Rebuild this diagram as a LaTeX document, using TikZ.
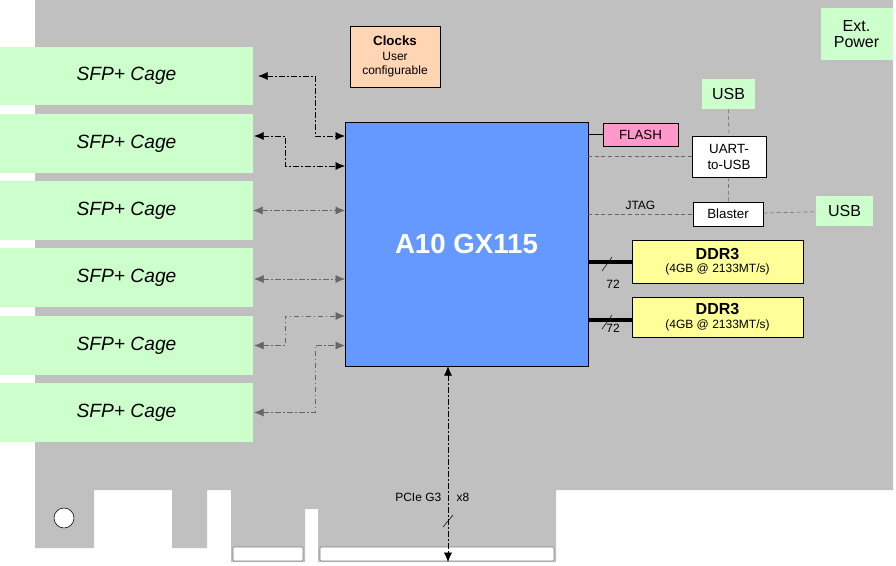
\documentclass[tikz,border=0pt]{standalone}
\usepackage{fontspec}
\setmainfont{Liberation Sans}
\usetikzlibrary{arrows.meta, positioning}
\definecolor{board}{HTML}{C0C0C0}
\definecolor{sfpgreen}{HTML}{CCFFCC}
\definecolor{fpgablue}{HTML}{6699FF}
\definecolor{clockpeach}{HTML}{FFD5B4}
\definecolor{flashpink}{HTML}{FF99CC}
\definecolor{ddryellow}{HTML}{FFFF99}
\begin{document}
\begin{tikzpicture}[
        x=0.75pt, y=-0.75pt,
        sfp/.style={rectangle, fill=sfpgreen, minimum width=189.75pt, minimum height=44pt, font=\Large\itshape, inner sep=0pt},
        usb/.style={rectangle, fill=sfpgreen, font=\large, inner sep=0pt},
        part/.style={rectangle, draw, inner sep=0pt, align=center},
        link/.style={dash pattern=on 4pt off 2pt on 1pt off 2pt, {Latex[length=7pt,width=6pt]}-{Latex[length=7pt,width=6pt]}},
        slink/.style={link, draw=gray!80!black},
        usbline/.style={draw=gray!80!black, densely dashed},
        bus/.style={line width=3pt}
    ]
    \useasboundingbox (0,0) rectangle (896,565);
    % board outline
    \fill[board] (35,0) -- (893,0) -- (893,490) -- (556,490) -- (556,562) -- (318,562) -- (318,509)
        -- (305,509) -- (305,562) -- (231,562) -- (231,490) -- (207,490) -- (207,548) -- (172,548)
        -- (172,490) -- (94,490) -- (94,548) -- (35,548) -- cycle;
    \fill[white, draw=gray, rounded corners=1pt] (233,547) rectangle (303,561);
    \fill[white, draw=gray, rounded corners=1pt] (320,547) rectangle (554,561);
    \draw[fill=white] (64,518) circle (7.5pt);

    % SFP cages
    \foreach \i/\y in {1/76, 2/143.5, 3/210.5, 4/277.5, 5/345.5, 6/412.5}
        \node[sfp] (sfp\i) at (126.5,\y) {SFP+ Cage};

    % main devices
    \node[part, fill=fpgablue, minimum width=182pt, minimum height=183pt, font=\huge\bfseries, text=white] (fpga) at (466.5,244) {A10 GX115};
    \node[part, fill=clockpeach, minimum width=67.5pt, minimum height=45.75pt] (clocks) at (395,56.5)
        {\textbf{Clocks}\\[-1pt]{\small User}\\[-1pt]{\small configurable}};
    \node[usb, minimum width=54pt, minimum height=39pt, align=center] (power) at (856.5,34) {Ext.\\[-2pt]Power};

    % right side parts
    \node[part, fill=flashpink, minimum width=56pt, minimum height=17pt] (flash) at (640.5,134.5) {FLASH};
    \node[part, fill=white, minimum width=55.5pt, minimum height=31pt] (uart) at (729,156.5) {UART-\\to-USB};
    \node[part, fill=white, minimum width=52.5pt, minimum height=18pt] (blaster) at (728,214) {Blaster};
    \node[usb, minimum width=40pt, minimum height=22.5pt] (usbtop) at (728.5,94) {USB};
    \node[usb, minimum width=43pt, minimum height=22.5pt] (usbright) at (844.5,211) {USB};
    \node[part, fill=ddryellow, minimum width=128pt, minimum height=32pt] (ddrA) at (717.5,261.5)
        {\textbf{\large DDR3}\\[-2pt]{\small (4GB @ 2133MT/s)}};
    \node[part, fill=ddryellow, minimum width=128pt, minimum height=30pt] (ddrB) at (717.5,317)
        {\textbf{\large DDR3}\\[-2pt]{\small (4GB @ 2133MT/s)}};

    % SFP links
    \draw[link] (sfp1.east) ++(5,0) coordinate (s1) -- (315,76) |- (fpga.west |- 0,136);
    \draw[link] (sfp2.east) ++(1,-7.5) coordinate (s2) -- (285,136) |- (fpga.west |- 0,166);
    \draw[slink] (sfp3.east) -- (fpga.west |- sfp3.east);
    \draw[slink] (sfp4.east) ++(1,1.5) coordinate (s4) -- (fpga.west |- s4);
    \draw[slink] (sfp5.east) ++(1,0) coordinate (s5) -- (285,345.5) |- (fpga.west |- 0,316);
    \draw[slink] (sfp6.east) ++(1,0) coordinate (s6) -- (315,412.5) |- (fpga.west |- 0,345.5);

    % PCIe
    \coordinate (edge) at (448,562);
    \draw[link] (fpga.south -| edge) -- (edge);
    \draw (443,527) -- (453,515);
    \node[left, font=\small] at (446,497) {PCIe G3};
    \node[right, font=\small] at (452,497) {x8};

    % flash, uart, jtag
    \draw[line width=1pt] (fpga.east |- flash) -- (flash);
    \draw[usbline] (fpga.east |- uart) -- (uart);
    \draw[usbline] (fpga.east |- blaster) -- node[above, pos=0.5, font=\small] {JTAG} (blaster);
    \draw[usbline] (usbtop) -- (uart);
    \draw[usbline] (uart) -- (blaster);
    \draw[usbline] (blaster) -- (usbright);

    % memory buses
    \draw[bus] (fpga.east |- ddrA) -- (ddrA.west);
    \draw[bus] (fpga.east |- 0,320) -- (ddrB.west |- 0,320);
    \draw (602,271) -- (612,257);
    \draw (602,329) -- (612,315);
    \node[font=\small] at (613,284) {72};
    \node[font=\small] at (613,328) {72};
\end{tikzpicture}
\end{document}
